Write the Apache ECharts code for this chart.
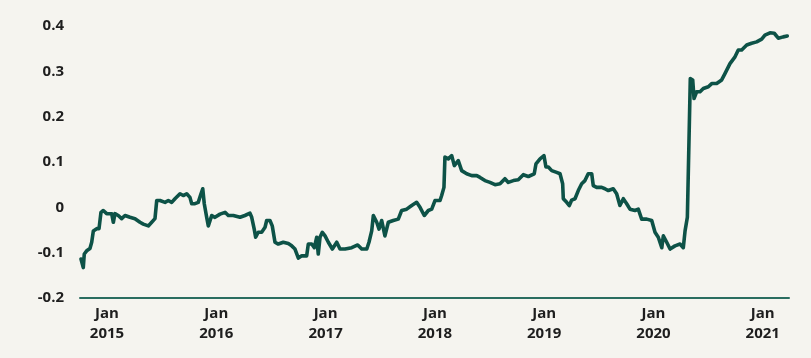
<!DOCTYPE html>
<html>
<head>
<meta charset="utf-8">
<script src="https://cdn.jsdelivr.net/npm/echarts@6/dist/echarts.min.js"></script>
<style>
html,body{margin:0;padding:0;background:#f5f4ef;}
#c{width:811px;height:358px;}
</style>
</head>
<body>
<div id="c"></div>
<script>
// decimal years
const years = [
2014.762,2014.783,2014.792,2014.814,2014.844,2014.860,2014.875,2014.906,2014.927,2014.945,
2014.966,2014.997,2015.043,2015.058,2015.073,2015.103,2015.134,2015.165,2015.210,2015.256,
2015.302,2015.332,2015.378,2015.409,2015.439,2015.455,2015.485,2015.531,2015.561,2015.592,
2015.622,2015.668,2015.698,2015.729,2015.759,2015.775,2015.805,2015.835,2015.860,2015.876,
2015.890,2015.912,2015.927,2015.958,2015.988,2016.034,2016.080,2016.110,2016.156,2016.171,
2016.217,2016.262,2016.308,2016.324,2016.347,2016.360,2016.384,2016.415,2016.446,2016.461,
2016.491,2016.512,2016.537,2016.567,2016.613,2016.659,2016.690,2016.720,2016.751,2016.782,
2016.827,2016.842,2016.873,2016.897,2016.919,2016.933,2016.949,2016.970,2016.995,2017.025,
2017.062,2017.102,2017.132,2017.178,2017.239,2017.294,2017.331,2017.377,2017.397,2017.422,
2017.437,2017.468,2017.489,2017.513,2017.543,2017.574,2017.619,2017.665,2017.696,2017.742,
2017.788,2017.833,2017.864,2017.903,2017.940,2017.971,2018.001,2018.047,2018.062,2018.083,
2018.092,2018.123,2018.154,2018.178,2018.214,2018.245,2018.291,2018.337,2018.383,2018.413,
2018.458,2018.504,2018.550,2018.596,2018.641,2018.672,2018.718,2018.763,2018.809,2018.855,
2018.909,2018.925,2018.962,2018.998,2019.016,2019.038,2019.069,2019.114,2019.145,2019.169,
2019.175,2019.206,2019.230,2019.252,2019.282,2019.312,2019.343,2019.373,2019.403,2019.435,
2019.449,2019.480,2019.526,2019.556,2019.587,2019.632,2019.663,2019.693,2019.724,2019.755,
2019.785,2019.831,2019.861,2019.892,2019.938,2019.984,2020.014,2020.044,2020.076,2020.090,
2020.121,2020.152,2020.197,2020.243,2020.273,2020.289,2020.310,2020.328,2020.337,2020.359,
2020.371,2020.395,2020.426,2020.456,2020.502,2020.533,2020.578,2020.624,2020.654,2020.700,
2020.746,2020.776,2020.807,2020.853,2020.898,2020.944,2020.990,2021.020,2021.066,2021.105,
2021.142,2021.187,2021.224
];
const values = [
-0.114,-0.133,-0.103,-0.096,-0.091,-0.077,-0.052,-0.047,-0.047,-0.011,
-0.007,-0.014,-0.014,-0.033,-0.014,-0.018,-0.025,-0.018,-0.022,-0.025,
-0.033,-0.037,-0.041,-0.033,-0.025,0.015,0.015,0.011,0.015,0.011,
0.019,0.030,0.026,0.030,0.022,0.008,0.008,0.011,0.030,0.041,
0.008,-0.022,-0.041,-0.018,-0.022,-0.015,-0.011,-0.018,-0.018,-0.018,
-0.022,-0.018,-0.013,-0.022,-0.048,-0.066,-0.055,-0.055,-0.044,-0.029,
-0.029,-0.041,-0.077,-0.081,-0.077,-0.080,-0.085,-0.092,-0.112,-0.107,
-0.107,-0.081,-0.081,-0.089,-0.066,-0.103,-0.066,-0.055,-0.063,-0.077,
-0.092,-0.077,-0.092,-0.092,-0.089,-0.083,-0.092,-0.092,-0.077,-0.052,
-0.018,-0.033,-0.048,-0.029,-0.063,-0.033,-0.029,-0.026,-0.007,-0.004,
0.004,0.011,0.000,-0.018,-0.007,-0.004,0.015,0.015,0.026,0.044,
0.111,0.107,0.114,0.092,0.103,0.081,0.074,0.070,0.070,0.066,
0.059,0.055,0.050,0.052,0.063,0.055,0.059,0.061,0.072,0.068,
0.074,0.096,0.107,0.114,0.089,0.089,0.081,0.077,0.074,0.052,
0.019,0.011,0.004,0.016,0.019,0.037,0.052,0.059,0.074,0.074,
0.048,0.044,0.044,0.041,0.037,0.041,0.030,0.004,0.019,0.008,
-0.004,-0.007,-0.004,-0.026,-0.026,-0.029,-0.055,-0.066,-0.089,-0.063,
-0.077,-0.092,-0.085,-0.081,-0.089,-0.052,-0.022,-0.022,0.284,0.281,
0.240,0.255,0.255,0.262,0.266,0.273,0.273,0.281,0.295,0.317,
0.332,0.347,0.347,0.358,0.362,0.365,0.371,0.380,0.385,0.384,
0.373,0.376,0.378
];
const xTickYears = [2015,2016,2017,2018,2019,2020,2021];
const yTicks = [-0.2,-0.1,0,0.1,0.2,0.3,0.4];

const chart = echarts.init(document.getElementById('c'), null, {renderer:'canvas'});
const labelFont = {fontFamily:'Open Sans', fontWeight:700, fontSize:15, color:'#1e1e1e'};
chart.setOption({
  backgroundColor:'#f5f4ef',
  animation:false,
  grid:{left:80, right:22, top:26, bottom:60, containLabel:false},
  xAxis:{
    type:'value', min:2014.753, max:2021.24,
    axisLine:{show:true, onZero:false, lineStyle:{color:'#2a6d60', width:2}},
    axisTick:{show:false},
    splitLine:{show:false},
    axisLabel:Object.assign({}, labelFont, {
      customValues:xTickYears, margin:6, lineHeight:20,
      formatter:v=>'Jan\n'+Math.round(v)
    })
  },
  yAxis:{
    type:'value', min:-0.2, max:0.4, interval:0.1,
    axisLine:{show:false}, axisTick:{show:false}, splitLine:{show:false},
    axisLabel:Object.assign({}, labelFont, {
      margin:16,
      formatter:v=>{const r=Math.round(v*10)/10; return r===0?'0':String(r);}
    })
  },
  series:[{
    type:'line', showSymbol:false, symbol:'none',
    data:years.map((y,i)=>[y,values[i]]),
    lineStyle:{color:'#0d5247', width:3.6, join:'round', cap:'round'}
  }]
});
</script>
</body>
</html>
